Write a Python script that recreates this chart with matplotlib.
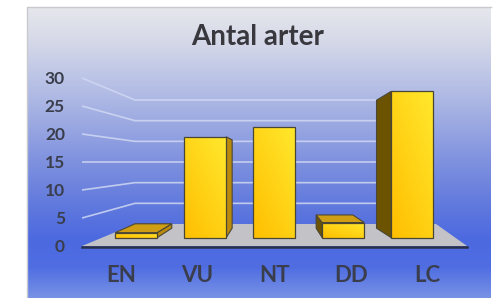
import numpy as np
import matplotlib.pyplot as plt
from matplotlib.patches import Polygon

categories = ["EN", "VU", "NT", "DD", "LC"]
antal = [1, 20, 22, 3, 29]
yticks = [0, 5, 10, 15, 20, 25, 30]
title = "Antal arter"

W, H = 501, 298
fig = plt.figure(figsize=(W / 100, H / 100), dpi=100)
ax = fig.add_axes([0, 0, 1, 1])
ax.set_xlim(0, W)
ax.set_ylim(H, 0)
ax.axis("off")

FONT = ["Lato", "DejaVu Sans"]
TXT = "#3a3e4c"

# --- simple perspective in pixel space -------------------------------
xv, yv = 274, 162      # vanishing point (eye level at value 15)
v_eye = 15
unit = 5.6             # px per unit on the front plane
s_back = 0.738         # scale of the back wall
s_bar_f, s_bar_b = 0.901, 0.788   # front / back of the columns
x0, dx, half_w = 121, 76.6, 23.3  # category centres on front plane


def y_front(v):
    return yv - (v - v_eye) * unit


def P(X, v, s):
    return (xv + (X - xv) * s, yv + (y_front(v) - yv) * s)


# --- background panel with vertical gradient ------------------------
stops = [(7, (230, 231, 236)), (40, (214, 217, 232)), (80, (186, 195, 230)),
         (120, (158, 171, 226)), (160, (128, 146, 223)), (200, (100, 124, 221)),
         (240, (76, 105, 224)), (268, (80, 110, 226)), (298, (120, 146, 229))]
ys = np.arange(7, 299)
sy = [s[0] for s in stops]
grad = np.stack([np.interp(ys, sy, [s[1][c] for s in stops]) for c in range(3)], axis=-1) / 255
ax.imshow(grad[:, None, :], extent=(27, 491, 298, 7), aspect="auto", zorder=0)
ax.plot([27, 27, 491], [298, 7, 7], color="#c9cad0", lw=1, zorder=1)

# --- gridlines on left wall + back wall -----------------------------
xl_front, xl_back, xr_back, xr_front = 82, 135, 436, 467
for v in yticks[1:]:
    yf = y_front(v)
    yb = yv + (yf - yv) * s_back
    ax.plot([xl_front, xl_back, 420], [yf, yb, yb], color="#d0d8f2",
            lw=1.2, alpha=0.85, zorder=2, solid_capstyle="butt")

# --- floor ------------------------------------------------------------
yf0 = y_front(0)
yb0 = yv + (yf0 - yv) * s_back
floor = Polygon([(xl_front, yf0), (xl_back, yb0), (xr_back, yb0), (xr_front, yf0)],
                closed=True, facecolor="#c3c3c7", edgecolor="none", zorder=3)
ax.add_patch(floor)
ax.plot([xl_front, xr_front], [yf0 + 0.8, yf0 + 0.8], color="#2a3048", lw=1.8, zorder=3)

# --- columns ------------------------------------------------------------
edge = "#4a4636"
gy, gx = np.mgrid[0:1:60j, 0:1:60j]
t = np.clip(0.55 * (1 - gy) + 0.45 * gx, 0, 1)[..., None]
c_lo = np.array([255, 190, 0]) / 255
c_hi = np.array([255, 232, 45]) / 255
bar_grad = c_lo * (1 - t) + c_hi * t

for i, (cat, val) in enumerate(zip(categories, antal)):
    Xc = x0 + dx * i
    Xl, Xr = Xc - half_w, Xc + half_w
    # side face
    if Xr < xv:
        side = [P(Xr, 0, s_bar_f), P(Xr, 0, s_bar_b), P(Xr, val, s_bar_b), P(Xr, val, s_bar_f)]
        ax.add_patch(Polygon(side, closed=True, facecolor="#b98a0c", edgecolor=edge,
                             lw=0.8, zorder=4))
    elif Xl > xv:
        side = [P(Xl, 0, s_bar_f), P(Xl, 0, s_bar_b), P(Xl, val, s_bar_b), P(Xl, val, s_bar_f)]
        ax.add_patch(Polygon(side, closed=True, facecolor="#6b5302", edgecolor=edge,
                             lw=0.8, zorder=4))
    # top face (only below eye level)
    if val < v_eye:
        top = [P(Xl, val, s_bar_f), P(Xr, val, s_bar_f), P(Xr, val, s_bar_b), P(Xl, val, s_bar_b)]
        ax.add_patch(Polygon(top, closed=True, facecolor="#cf9e14", edgecolor=edge,
                             lw=0.8, zorder=4))
    # front face with gradient
    front = [P(Xl, 0, s_bar_f), P(Xr, 0, s_bar_f), P(Xr, val, s_bar_f), P(Xl, val, s_bar_f)]
    fx = [p[0] for p in front]
    fy = [p[1] for p in front]
    clip = Polygon(front, closed=True, facecolor="none", edgecolor=edge, lw=0.9, zorder=6)
    ax.add_patch(clip)
    im = ax.imshow(bar_grad, extent=(min(fx), max(fx), max(fy), min(fy)),
                   aspect="auto", zorder=5)
    im.set_clip_path(clip)
    # category label
    ax.text(Xc, 276, cat, ha="center", va="center", fontsize=16, fontweight="bold",
            color=TXT, family=FONT, zorder=7)

# --- value axis labels ------------------------------------------------
for v in yticks:
    ax.text(65, y_front(v) + 1.5, str(v), ha="right", va="center", fontsize=12.5,
            fontweight="bold", color=TXT, family=FONT, zorder=7)

ax.text(258, 37, title, ha="center", va="center", fontsize=20, fontweight="bold",
        color="#38383e", family=FONT, zorder=7)

fig.savefig("out.png", dpi=100)
